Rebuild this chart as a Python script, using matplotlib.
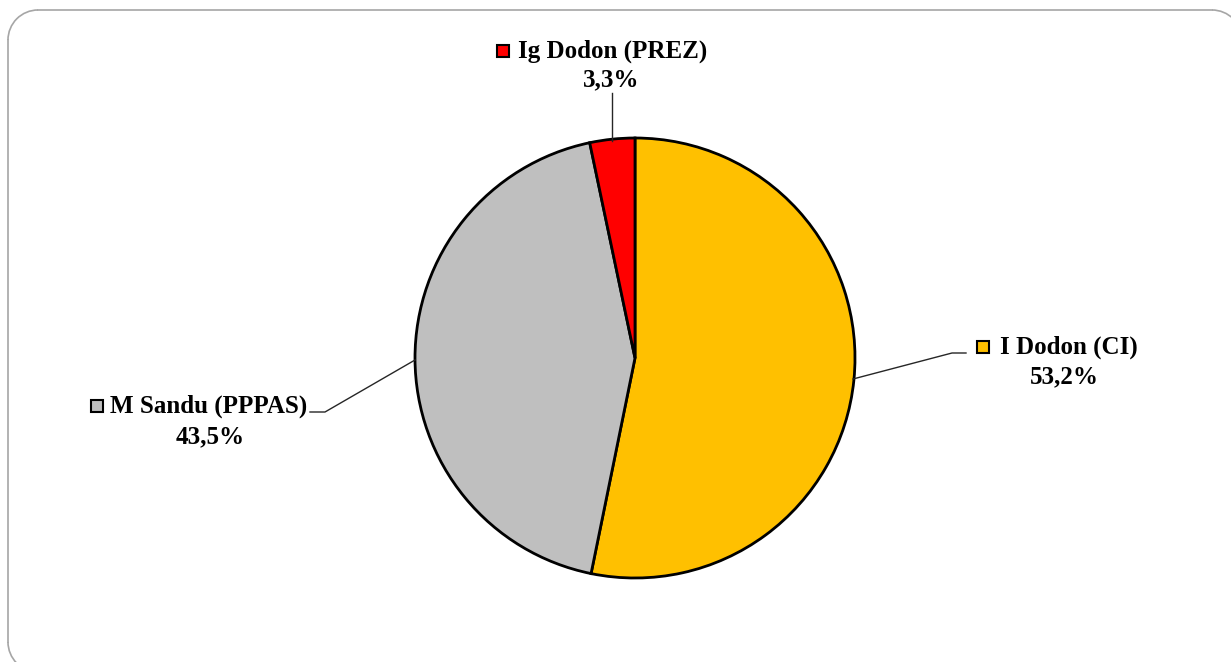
import matplotlib.pyplot as plt
from matplotlib.patches import Arc, Rectangle

# ----- Data -----
candidates = ['I Dodon (CI)', 'M Sandu (PPPAS)', 'Ig Dodon (PREZ)']
shares = [53.2, 43.5, 3.3]
colors = ['#FFC000', '#BFBFBF', '#FF0000']

W, H = 1231, 662
fig = plt.figure(figsize=(W / 100, H / 100), dpi=100)
ax = fig.add_axes([0, 0, 1, 1])

def Y(y):
    # pixel row (from top) -> data y
    return H - y

cx, cy, r = 635, Y(358), 220
ax.pie(shares, colors=colors, startangle=90, counterclock=False,
       center=(cx, cy), radius=r, frame=True,
       wedgeprops=dict(edgecolor='black', linewidth=2.0))
ax.set_xlim(0, W)
ax.set_ylim(0, H)
ax.set_aspect('equal')
ax.axis('off')

# rounded chart frame, runs off the right and bottom edges like the original
fc = '#A6A6A6'
rr = 30
left, top, right, bottom = 8, 10, 1242, 672
ax.plot([left + rr, right - rr], [Y(top), Y(top)], color=fc, lw=1.2, zorder=0)
ax.plot([left, left], [Y(top + rr), Y(bottom - rr)], color=fc, lw=1.2, zorder=0)
for (ax_x, ax_y, t1, t2) in [(left + rr, top + rr, 90, 180), (right - rr, top + rr, 0, 90),
                             (left + rr, bottom - rr, 180, 270)]:
    ax.add_patch(Arc((ax_x, Y(ax_y)), 2 * rr, 2 * rr, theta1=t1, theta2=t2,
                     color=fc, lw=1.2, zorder=0))

font = dict(family='Liberation Serif', fontweight='bold', fontsize=18, color='black')

def pct(v):
    return f"{v:.1f}".replace('.', ',') + '%'

# label layout: (name x-start, name y, pct center x, pct y, marker x, leader points)
layout = [
    (1000, 347, 1064, 377, 983, [(853, 379), (952, 353), (966, 353)]),
    (110, 406, 210, 437, 97, [(415, 360), (325, 412), (310, 412)]),
    (518, 51, 611, 80, 503, [(612, 141), (612, 93)]),
]

for name, v, c, (tx, ty, px, py, mx, pts) in zip(candidates, shares, colors, layout):
    ax.text(tx, Y(ty), name, ha='left', va='center', **font)
    ax.text(px, Y(py), pct(v), ha='center', va='center', **font)
    ax.add_patch(Rectangle((mx - 6, Y(ty) - 6), 12, 12, facecolor=c,
                           edgecolor='black', linewidth=1.5, zorder=3))
    xs = [p[0] for p in pts]
    ys = [Y(p[1]) for p in pts]
    ax.plot(xs, ys, color='#262626', linewidth=1.0, zorder=1)

plt.savefig('out.png', dpi=100)
